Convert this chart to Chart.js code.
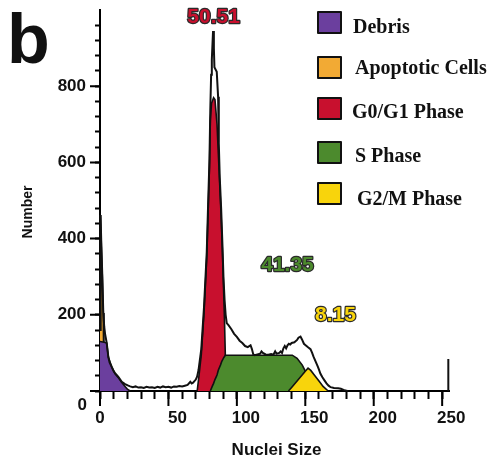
<!DOCTYPE html>
<html lang="en">
<head>
<meta charset="UTF-8">
<title>Nuclei Size histogram</title>
<script src="https://cdn.jsdelivr.net/npm/chart.js"></script>
<style>
  body { margin: 0; background: #fff; }
  #wrap { width: 487px; height: 457px; position: relative; }
</style>
</head>
<body>
<div id="wrap"><canvas id="cycleChart"></canvas></div>
<script>
// whole histogram (black outline)
const totalX = [0, 0.4, 1, 1.7, 2.4, 3.1, 3.7, 4.9, 6.1, 7, 8.6, 10, 11, 13.4, 15.9, 18.3, 20.7, 22, 24, 26, 28, 30, 32, 34, 36, 38, 40, 42, 44, 46, 48, 50, 52, 54, 56, 58, 60, 62, 64, 66, 67, 68, 70, 71, 72, 74, 76, 78, 79, 80, 80.6, 81.2, 81.7, 82.6, 83.2, 83.6, 85.3, 86.3, 86.8, 87.5, 88.5, 89.5, 90.2, 91, 91.8, 92.6, 94, 96, 98, 100, 102, 104, 106, 108, 110, 111, 112, 113, 115, 117, 118, 119, 121, 123, 125, 126.7, 128, 129, 131, 132, 133, 134, 135, 136, 137, 138, 139, 140, 142, 144, 145, 146.5, 147.5, 149, 150, 152, 153.8, 155, 156, 157.5, 159, 160, 161, 162.5, 164, 165.5, 167, 168.5, 171, 174, 176, 178, 180, 181];
const totalY = [160, 462, 380, 300, 205, 168, 150, 126, 89, 75, 63, 52, 47, 37, 24, 18, 14, 12, 10, 12, 9, 10, 8, 11, 9, 10, 8, 11, 9, 12, 10, 11, 9, 12, 11, 13, 12, 14, 16, 24, 20, 22, 30, 38, 55, 110, 220, 365, 490, 610, 740, 830, 870, 945, 900, 850, 838, 772, 650, 560, 480, 380, 300, 240, 200, 178, 172, 162, 150, 142, 132, 126, 118, 115, 120, 110, 96, 94, 96, 98, 104, 100, 96, 95, 97, 95, 104, 98, 100, 104, 100, 112, 118, 112, 120, 124, 122, 126, 128, 134, 140, 143, 136, 124, 121, 115, 110, 100, 90, 78, 65, 56, 46, 36, 28, 20, 14, 10, 8, 7, 6, 3, 1, 0];

// components
const debrisX = [0, 3.1, 4.9, 6.1, 8.6, 11, 13.4, 15.9, 18.3, 20, 22];
const debrisY = [130, 128, 126, 89, 63, 45, 35, 22, 12, 5, 0];
const apoptoticX = [0, 0.4, 1, 1.7, 2.4, 2.9];
const apoptoticY = [160, 462, 380, 300, 205, 0];
const g0g1X = [71, 72, 74, 76, 78, 79, 80, 80.6, 81.5, 83, 84, 85.5, 86.5, 87.5, 88.5, 89.5, 90.2, 91, 91.6, 92.5];
const g0g1Y = [0, 30, 95, 205, 350, 470, 590, 710, 755, 770, 765, 700, 620, 540, 460, 360, 280, 180, 90, 0];
const sPhaseX = [80.6, 82, 83, 84, 85.5, 86.5, 88, 89, 90.5, 91.6, 140.5, 144, 147.8, 151, 154, 156];
const sPhaseY = [0, 12, 20, 30, 42, 55, 68, 78, 88, 94, 94, 86, 68, 45, 22, 0];
const g2mX = [137.7, 140, 144, 148, 150, 152, 154, 157, 160, 163, 166.7];
const g2mY = [0, 9, 26, 43, 52, 60, 54, 40, 26, 12, 0];
// short bar at the end of the range
const endX = [254.5, 254.5];
const endY = [0, 84];

// axis ticks
const xMajor = [0, 50, 100, 150, 200, 250];
const yMajor = [0, 200, 400, 600, 800];

// legend and percentages
const legendNames = ['Debris', 'Apoptotic Cells', 'G0/G1 Phase', 'S Phase', 'G2/M Phase'];
const legendColors = ['#6b3f9e', '#f2aa34', '#c8102e', '#4c8a2d', '#f8d40c'];
const peakTexts = ['50.51', '41.35', '8.15'];
const peakColors = ['#c8102e', '#4c8a2d', '#f8d40c'];
const peakAtX = [83, 137, 172];
const peakAtY = [980, 331, 198];

function pts(xs, ys) {
    return xs.map((x, i) => ({ x: x, y: ys[i] }));
}

function area(data, color, order) {
    return {
        data: data,
        fill: 'origin',
        backgroundColor: color,
        borderColor: '#111',
        borderWidth: 1.6,
        pointRadius: 0,
        tension: 0,
        clip: false,
        order: order
    };
}

const extras = {
    id: 'extras',
    afterDraw(chart) {
        const ctx = chart.ctx;
        const xs = chart.scales.x, ys = chart.scales.y;
        const area = chart.chartArea;
        ctx.save();

        // longer major ticks
        ctx.strokeStyle = '#000';
        ctx.lineWidth = 2;
        ctx.beginPath();
        xMajor.forEach(v => {
            const px = xs.getPixelForValue(v);
            ctx.moveTo(px, area.bottom);
            ctx.lineTo(px, area.bottom + 15);
        });
        yMajor.forEach(v => {
            const py = ys.getPixelForValue(v);
            ctx.moveTo(area.left, py);
            ctx.lineTo(area.left - 10, py);
        });
        ctx.stroke();

        // zero labels
        ctx.fillStyle = '#111';
        ctx.font = 'bold 17px "Liberation Sans", Arial, sans-serif';
        ctx.textAlign = 'right';
        ctx.textBaseline = 'middle';
        ctx.fillText('0', area.left - 13, area.bottom + 14);
        ctx.textAlign = 'center';
        ctx.fillText('0', xs.getPixelForValue(0), area.bottom + 27);

        // axis titles
        ctx.font = 'bold 17px "Liberation Sans", Arial, sans-serif';
        ctx.fillText('Nuclei Size', (area.left + area.right) / 2 + 2, 450);
        ctx.save();
        ctx.translate(28, 212);
        ctx.rotate(-Math.PI / 2);
        ctx.font = 'bold 14px "Liberation Sans", Arial, sans-serif';
        ctx.fillText('Number', 0, 0);
        ctx.restore();

        // panel letter
        ctx.font = 'bold 70px "Liberation Sans", Arial, sans-serif';
        ctx.textAlign = 'left';
        ctx.textBaseline = 'alphabetic';
        ctx.fillText('b', 7, 63);

        // percentages
        ctx.font = 'bold 21px "Liberation Sans", Arial, sans-serif';
        ctx.textAlign = 'center';
        ctx.textBaseline = 'middle';
        ctx.lineJoin = 'round';
        ctx.lineWidth = 2.4;
        ctx.strokeStyle = '#2a2a2a';
        peakTexts.forEach((t, i) => {
            const px = xs.getPixelForValue(peakAtX[i]);
            const py = ys.getPixelForValue(peakAtY[i]);
            ctx.strokeText(t, px, py);
            ctx.fillStyle = peakColors[i];
            ctx.fillText(t, px, py);
        });

        // legend
        const tops = [12, 57, 98, 142, 183];
        const bases = [33, 74, 118, 162, 205];
        const textX = [353, 355, 352, 355, 357];
        ctx.font = 'bold 20px "Liberation Serif", "Times New Roman", serif';
        ctx.textAlign = 'left';
        ctx.textBaseline = 'alphabetic';
        legendNames.forEach((name, i) => {
            ctx.fillStyle = legendColors[i];
            ctx.fillRect(318, tops[i], 23, 21);
            ctx.lineWidth = 2;
            ctx.strokeStyle = '#111';
            ctx.strokeRect(318, tops[i], 23, 21);
            ctx.fillStyle = '#111';
            ctx.fillText(name, textX[i], bases[i]);
        });
        ctx.restore();
    }
};

const ctx = document.getElementById('cycleChart').getContext('2d');
const chart = new Chart(ctx, {
    type: 'line',
    data: {
        datasets: [
            {
                data: pts(totalX, totalY),
                fill: false,
                borderColor: '#111',
                borderWidth: 2,
                pointRadius: 0,
                tension: 0,
                clip: false,
                order: 0
            },
            {
                data: pts(endX, endY),
                fill: false,
                borderColor: '#111',
                borderWidth: 2,
                pointRadius: 0,
                clip: false,
                order: 0
            },
            area(pts(g2mX, g2mY), legendColors[4], 1),
            area(pts(sPhaseX, sPhaseY), legendColors[3], 2),
            area(pts(g0g1X, g0g1Y), legendColors[2], 3),
            area(pts(debrisX, debrisY), legendColors[0], 4),
            area(pts(apoptoticX, apoptoticY), legendColors[1], 5)
        ]
    },
    options: {
        responsive: true,
        maintainAspectRatio: false,
        animation: false,
        layout: { padding: { left: 0, top: 10, right: 38, bottom: 0 } },
        plugins: {
            legend: { display: false },
            tooltip: { enabled: false }
        },
        scales: {
            x: {
                type: 'linear',
                min: 0,
                max: 255,
                afterFit: s => { s.height = 66; s.paddingLeft = 0; s.paddingRight = 0; },
                afterBuildTicks: s => { s.ticks = s.ticks.filter(t => t.value % 10 === 0 && t.value <= 250); },
                ticks: {
                    stepSize: 10,
                    includeBounds: false,
                    autoSkip: false,
                    maxRotation: 0,
                    padding: 9,
                    labelOffset: 9,
                    color: '#111',
                    font: { family: '"Liberation Sans", Arial, sans-serif', size: 17, weight: 'bold' },
                    callback: v => (v % 50 === 0 && v !== 0) ? String(v) : ''
                },
                grid: { drawOnChartArea: false, drawTicks: true, tickLength: 8, tickWidth: 2, tickColor: '#000' },
                border: { display: true, color: '#000', width: 2 }
            },
            y: {
                min: 0,
                max: 1000,
                afterFit: s => { s.width = 100; s.paddingTop = 0; s.paddingBottom = 0; },
                afterBuildTicks: s => { s.ticks = s.ticks.filter(t => t.value % 40 === 0 && t.value <= 960); },
                ticks: {
                    stepSize: 40,
                    includeBounds: false,
                    autoSkip: false,
                    padding: 9,
                    color: '#111',
                    font: { family: '"Liberation Sans", Arial, sans-serif', size: 17, weight: 'bold' },
                    callback: v => (v % 200 === 0 && v !== 0) ? String(v) : ''
                },
                grid: { drawOnChartArea: false, drawTicks: true, tickLength: 5, tickWidth: 2, tickColor: '#000' },
                border: { display: true, color: '#000', width: 2 }
            }
        }
    },
    plugins: [extras]
});
</script>
</body>
</html>
